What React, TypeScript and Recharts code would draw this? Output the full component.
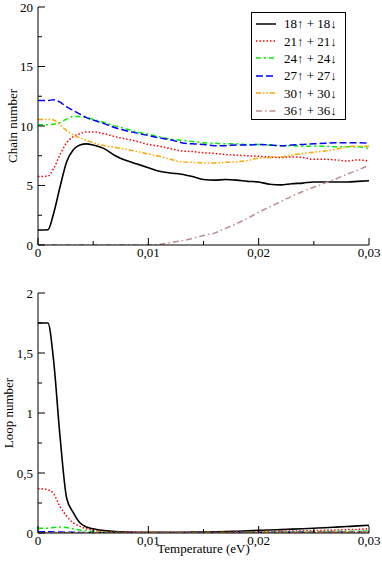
import { LineChart, Line, XAxis, YAxis, Legend } from 'recharts'

// temperature grid (eV)
const temps = [
  0, 0.0009, 0.0014, 0.002, 0.0026, 0.0032, 0.0038, 0.0044, 0.005, 0.006, 0.007, 0.008, 0.009, 0.01,
  0.011, 0.012, 0.013, 0.014, 0.015, 0.016, 0.017, 0.018, 0.019, 0.02,
  0.021, 0.022, 0.023, 0.024, 0.025, 0.026, 0.027, 0.028, 0.029, 0.03,
]

const chain18 = [
  1.26, 1.28, 2.6, 4.9, 7.0, 8.0, 8.4, 8.5, 8.4, 8.1, 7.5, 7.1, 6.8, 6.5,
  6.2, 6.05, 5.95, 5.75, 5.5, 5.45, 5.5, 5.45, 5.35, 5.3,
  5.1, 5.05, 5.15, 5.2, 5.3, 5.3, 5.3, 5.3, 5.35, 5.4,
]
const chain21 = [
  5.75, 5.8, 6.4, 7.6, 8.6, 9.1, 9.35, 9.5, 9.5, 9.35, 9.1, 8.9, 8.7, 8.45,
  8.3, 8.1, 7.9, 7.85, 7.75, 7.7, 7.6, 7.55, 7.5, 7.45,
  7.4, 7.35, 7.4, 7.35, 7.2, 7.2, 7.15, 7.05, 7.15, 7.05,
]
const chain24 = [
  10.1, 10.1, 10.15, 10.3, 10.6, 10.8, 10.8, 10.7, 10.55, 10.3, 10.0, 9.75, 9.5, 9.3,
  9.1, 8.9, 8.8, 8.7, 8.6, 8.55, 8.5, 8.5, 8.45, 8.45,
  8.4, 8.35, 8.35, 8.3, 8.3, 8.3, 8.25, 8.25, 8.25, 8.1,
]
const chain27 = [
  12.15, 12.15, 12.2, 12.0, 11.6, 11.3, 11.0, 10.7, 10.5, 10.2, 9.85, 9.6, 9.4, 9.2,
  9.0, 8.85, 8.6, 8.5, 8.45, 8.35, 8.35, 8.4, 8.4, 8.45,
  8.4, 8.35, 8.4, 8.45, 8.5, 8.55, 8.6, 8.6, 8.6, 8.55,
]
const chain30 = [
  10.55, 10.55, 10.5, 10.1, 9.6, 9.25, 9.0, 8.8, 8.6, 8.35, 8.2, 8.05, 7.85, 7.65,
  7.45, 7.2, 7.0, 6.95, 6.9, 6.9, 6.95, 7.0, 7.1, 7.3,
  7.35, 7.4, 7.55, 7.7, 7.8, 7.9, 8.05, 8.25, 8.3, 8.3,
]
const chain36 = [
  0, 0, 0, 0, 0, 0, 0, 0, 0, 0, 0, 0, 0, 0,
  0.05, 0.2, 0.35, 0.55, 0.8, 1.0, 1.4, 1.8, 2.25, 2.75,
  3.2, 3.65, 4.1, 4.5, 4.85, 5.2, 5.55, 5.95, 6.3, 6.7,
]

const loop18 = [
  1.75, 1.75, 1.45, 0.8, 0.29, 0.17, 0.085, 0.05, 0.035, 0.02, 0.012, 0.008, 0.006, 0.005,
  0.005, 0.005, 0.006, 0.007, 0.008, 0.01, 0.012, 0.015, 0.018, 0.022,
  0.025, 0.028, 0.032, 0.036, 0.04, 0.044, 0.049, 0.054, 0.059, 0.065,
]
const loop21 = [
  0.37, 0.36, 0.33, 0.22, 0.14, 0.085, 0.055, 0.035, 0.022, 0.012, 0.008, 0.006, 0.005, 0.004,
  0.004, 0.004, 0.004, 0.005, 0.005, 0.006, 0.007, 0.008, 0.01, 0.012,
  0.013, 0.015, 0.017, 0.018, 0.02, 0.022, 0.025, 0.028, 0.03, 0.035,
]
const loop24 = [
  0.04, 0.04, 0.045, 0.05, 0.045, 0.035, 0.025, 0.018, 0.012, 0.007, 0.004, 0.003, 0.003, 0.003,
  0.003, 0.003, 0.003, 0.003, 0.004, 0.004, 0.005, 0.005, 0.006, 0.007,
  0.008, 0.009, 0.01, 0.011, 0.012, 0.013, 0.014, 0.015, 0.016, 0.018,
]
const loop27 = [
  0.01, 0.01, 0.009, 0.008, 0.007, 0.006, 0.005, 0.004, 0.003, 0.003, 0.002, 0.002, 0.002, 0.002,
  0.002, 0.002, 0.002, 0.002, 0.003, 0.003, 0.003, 0.004, 0.004, 0.005,
  0.005, 0.006, 0.006, 0.007, 0.007, 0.008, 0.008, 0.009, 0.009, 0.01,
]
const loop30 = [
  0.003, 0.003, 0.003, 0.003, 0.003, 0.002, 0.002, 0.002, 0.002, 0.002, 0.002, 0.002, 0.002, 0.002,
  0.002, 0.002, 0.002, 0.002, 0.002, 0.003, 0.003, 0.003, 0.003, 0.004,
  0.004, 0.004, 0.005, 0.005, 0.005, 0.006, 0.006, 0.006, 0.007, 0.007,
]
const loop36 = [
  0, 0, 0, 0, 0, 0, 0, 0, 0, 0, 0, 0, 0, 0,
  0, 0, 0, 0, 0.001, 0.001, 0.001, 0.002, 0.002, 0.003,
  0.003, 0.004, 0.004, 0.005, 0.005, 0.006, 0.006, 0.007, 0.008, 0.009,
]

const xTicks = [0, 0.005, 0.01, 0.015, 0.02, 0.025, 0.03]
const chainTicks = [0, 2.5, 5, 7.5, 10, 12.5, 15, 17.5, 20]
const loopTicks = [0, 0.25, 0.5, 0.75, 1, 1.25, 1.5, 1.75, 2]

const series = [
  { key: 's18', name: '18↑ + 18↓', color: '#000000', dash: undefined },
  { key: 's21', name: '21↑ + 21↓', color: '#ff0000', dash: '1.5 2' },
  { key: 's24', name: '24↑ + 24↓', color: '#00ee00', dash: '5 3 2 3' },
  { key: 's27', name: '27↑ + 27↓', color: '#0000ff', dash: '7 3' },
  { key: 's30', name: '30↑ + 30↓', color: '#ffa500', dash: '5 2 1.5 2 1.5 2' },
  { key: 's36', name: '36↑ + 36↓', color: '#bc8f8f', dash: '6 3 1.5 3' },
]

const chainRows = temps.map((t, i) => ({
  t, s18: chain18[i], s21: chain21[i], s24: chain24[i], s27: chain27[i], s30: chain30[i], s36: chain36[i],
}))
const loopRows = temps.map((t, i) => ({
  t, s18: loop18[i], s21: loop21[i], s24: loop24[i], s27: loop27[i], s30: loop30[i], s36: loop36[i],
}))

const FONT = '"Liberation Serif", "Times New Roman", serif'
const txt = { fontFamily: FONT, fontSize: 13, fill: '#000' }
const fmt = (v: number) => String(+v.toFixed(4)).replace('.', ',')
const isMajor = (v: number, step: number) => Math.abs(v / step - Math.round(v / step)) < 1e-6

const xTick = (side: 'bottom' | 'top') => (p: any) => {
  const v = p.payload.value
  const major = isMajor(v, 0.01)
  const len = major ? 7 : 4
  const dir = side === 'bottom' ? -1 : 1
  return (
    <g>
      <line x1={p.x} x2={p.x} y1={p.y} y2={p.y + dir * len} stroke="#000" />
      {side === 'bottom' && major && (
        <text x={p.x} y={p.y + 3} dy="0.71em" textAnchor="middle" style={txt}>
          {fmt(v)}
        </text>
      )}
    </g>
  )
}

const yTick = (side: 'left' | 'right', step: number) => (p: any) => {
  const v = p.payload.value
  const major = isMajor(v, step)
  const len = major ? 7 : 4
  const dir = side === 'left' ? 1 : -1
  return (
    <g>
      <line x1={p.x} x2={p.x + dir * len} y1={p.y} y2={p.y} stroke="#000" />
      {side === 'left' && major && (
        <text x={p.x - 5} y={p.y} dy="0.35em" textAnchor="end" style={txt}>
          {fmt(v)}
        </text>
      )}
    </g>
  )
}

const yLabel = (text: string, x: number) => (props: any) => {
  const vb = props.viewBox || {}
  const cy = (vb.y ?? 0) + (vb.height ?? 0) / 2
  return (
    <text transform={`translate(${x}, ${cy}) rotate(-90)`} textAnchor="middle" dominantBaseline="central" style={txt}>
      {text}
    </text>
  )
}

const LegendBox = () => (
  <div style={{
    border: '1px solid #000', background: '#fff', boxSizing: 'border-box', width: 95, height: 108,
    paddingTop: 2, fontFamily: FONT, fontSize: 13, color: '#000',
  }}>
    {series.map(s => (
      <div key={s.key} style={{ display: 'flex', alignItems: 'center', height: 17.4 }}>
        <svg width={20} height={6} style={{ marginLeft: 4, marginRight: 8 }}>
          <line x1={0} x2={20} y1={3} y2={3} stroke={s.color} strokeWidth={1.5} strokeDasharray={s.dash} />
        </svg>
        <span style={{ whiteSpace: 'nowrap', lineHeight: '17px' }}>{s.name}</span>
      </div>
    ))}
  </div>
)

function Panel({ rows, yMax, yTicks, yStep, label, labelX, height, xLabel, legend }: any) {
  return (
    <LineChart width={382} height={height} data={rows} margin={{ top: 7, right: 13, left: 0, bottom: 0 }}>
      <XAxis dataKey="t" type="number" domain={[0, 0.03]} ticks={xTicks} interval={0} allowDataOverflow
        height={xLabel ? 34 : 17} tickSize={0} tickMargin={0} tickLine={false} tick={xTick('bottom')}
        axisLine={{ stroke: '#000' }}
        label={xLabel ? {
          content: (props: any) => {
            const vb = props.viewBox || {}
            return (
              <text x={(vb.x ?? 0) + (vb.width ?? 0) / 2} y={(vb.y ?? 0) + 20} textAnchor="middle" style={txt}>
                {xLabel}
              </text>
            )
          },
        } : undefined} />
      <XAxis xAxisId="top" orientation="top" type="number" domain={[0, 0.03]} ticks={xTicks} interval={0}
        allowDataOverflow height={0} tickSize={0} tickMargin={0} tickLine={false} tick={xTick('top')}
        axisLine={{ stroke: '#000' }} />
      <YAxis type="number" domain={[0, yMax]} ticks={yTicks} interval={0} allowDataOverflow width={38}
        tickSize={0} tickMargin={0} tickLine={false} tick={yTick('left', yStep)} axisLine={{ stroke: '#000' }}
        label={{ content: yLabel(label, labelX) }} />
      <YAxis yAxisId="right" orientation="right" type="number" domain={[0, yMax]} ticks={yTicks} interval={0}
        allowDataOverflow width={0} tickSize={0} tickMargin={0} tickLine={false} tick={yTick('right', yStep)}
        axisLine={{ stroke: '#000' }} />
      {legend && (
        <Legend layout="vertical" align="center" verticalAlign="middle" content={<LegendBox />}
          wrapperStyle={{ left: 251, top: 12, width: 95, height: 108 }} />
      )}
      {series.map(s => (
        <Line key={s.key} dataKey={s.key} name={s.name} type="monotone" stroke={s.color}
          strokeWidth={s.key === 's18' ? 1.6 : 1.5} strokeDasharray={s.dash} dot={false}
          activeDot={false} isAnimationActive={false} />
      ))}
    </LineChart>
  )
}

export default function App() {
  return (
    <div style={{ position: 'absolute', left: 0, top: 0, width: 382, height: 567, background: '#fff' }}>
      <div style={{ position: 'absolute', left: 0, top: 0 }}>
        <Panel rows={chainRows} yMax={20} yTicks={chainTicks} yStep={5} label="Chain number" labelX={12}
          height={262} legend />
      </div>
      <div style={{ position: 'absolute', left: 0, top: 286 }}>
        <Panel rows={loopRows} yMax={2} yTicks={loopTicks} yStep={0.5} label="Loop number" labelX={8}
          height={281} xLabel="Temperature (eV)" />
      </div>
    </div>
  )
}
